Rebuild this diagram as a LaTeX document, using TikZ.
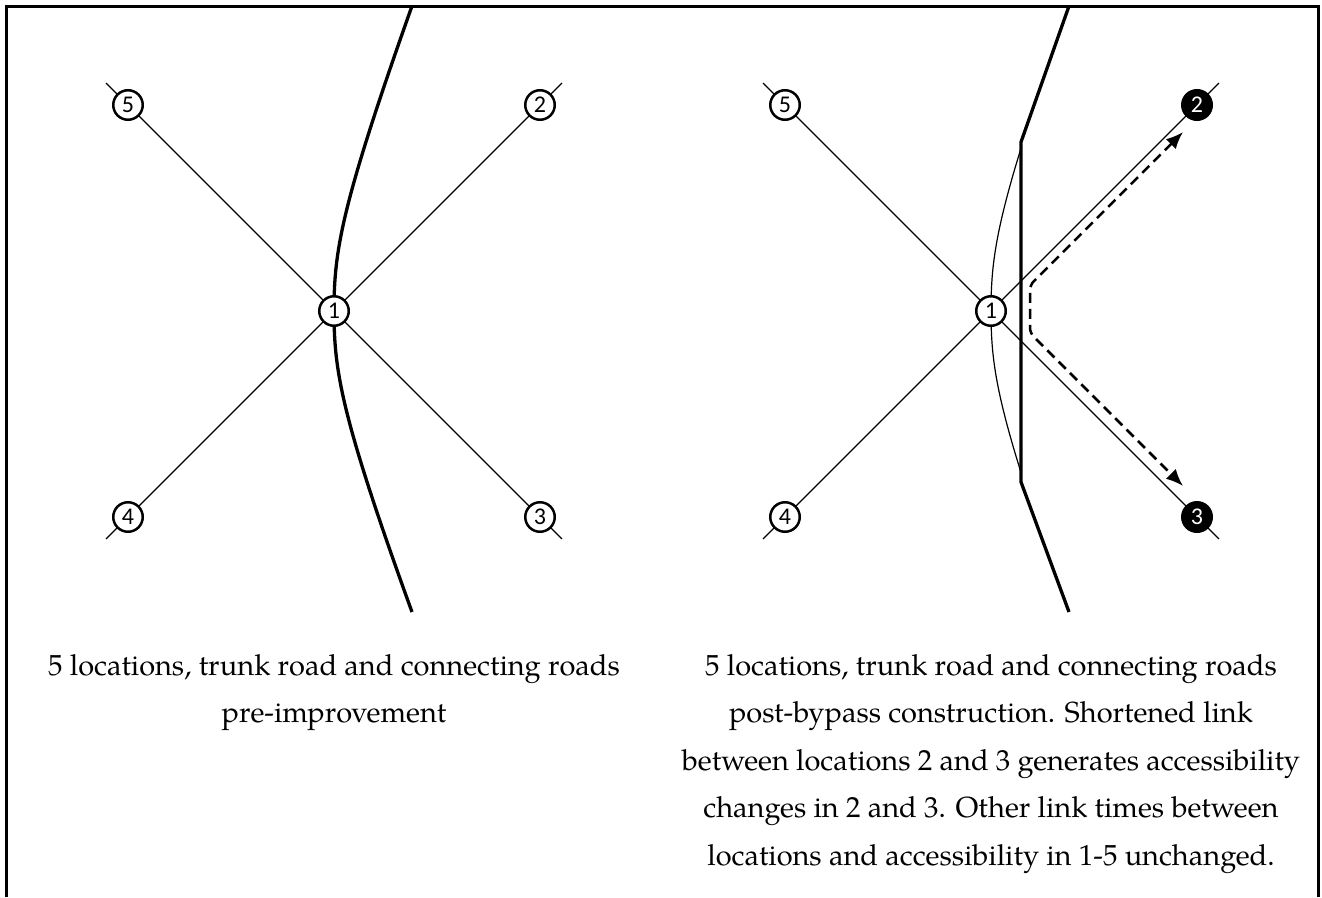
\documentclass[tikz,border=0pt]{standalone}
\usepackage{fontspec}
\newfontfamily\numfont{Carlito}
\newfontfamily\palfont{texgyrepagella-regular.otf}
\usetikzlibrary{arrows.meta}
\begin{document}
\begin{tikzpicture}[x=1pt,y=-1pt,
  loc/.style={circle,draw,line width=2.5pt,fill=white,minimum size=29.5pt,inner sep=0pt,
    font=\numfont\fontsize{24}{24}\selectfont},
  locb/.style={loc,fill=black,text=white},
  link/.style={line width=1.2pt,shorten <=-31pt,shorten >=-31pt},
  trunk/.style={line width=3.3pt},
  oldtrunk/.style={line width=1.2pt},
  frame/.style={line width=3pt},
  route/.style={line width=2.5pt,dash pattern=on 10pt off 6pt,rounded corners=5pt,
    {Latex[length=17pt,width=14pt]}-{Latex[length=17pt,width=14pt]}},
  caption/.style={inner sep=0pt,anchor=base}]
\useasboundingbox (0,0) rectangle (1322,897);
\draw[frame] (6,897) -- (6,6) -- (1318,6) -- (1318,897);

% ---------- left panel ----------
\coordinate (p1) at (334,311);
\coordinate (p2) at (540,105);
\coordinate (p3) at (540,517);
\coordinate (p4) at (128,517);
\coordinate (p5) at (128,105);
\coordinate (tA) at (412,6);
\coordinate (tB) at (412,612);
\draw[link] (p5) -- (p3);
\draw[link] (p2) -- (p4);
\draw[trunk] (tA) .. controls (341,206) and (334,251) .. (p1)
             .. controls (334,371) and (341,416) .. (tB);
\node[loc] (n1) at (p1) {1};
\node[loc] (n2) at (p2) {2};
\node[loc] (n3) at (p3) {3};
\node[loc] (n4) at (p4) {4};
\node[loc] (n5) at (p5) {5};

% ---------- right panel ----------
\coordinate (q1) at (991,311);
\coordinate (q2) at (1197,105);
\coordinate (q3) at (1197,517);
\coordinate (q4) at (785,517);
\coordinate (q5) at (785,105);
\coordinate (uA) at (1069,6);
\coordinate (uB) at (1069,612);
\coordinate (bA) at (1021,142);
\coordinate (bB) at (1021,482);
\draw[link] (q5) -- (q3);
\draw[link] (q2) -- (q4);
\begin{scope}
  \clip (900,0) rectangle (1021,897);
  \draw[oldtrunk] (uA) .. controls (998,206) and (991,251) .. (q1)
                  .. controls (991,371) and (998,416) .. (uB);
\end{scope}
\draw[trunk] (uA) -- (bA) -- (bB) -- (uB);
\coordinate (d2) at (1183,132);
\coordinate (d3) at (1183,486);
\coordinate (k2) at (1030,285);
\coordinate (k3) at (1030,333);
\draw[route] (d2) -- (k2) -- (k3) -- (d3);
\node[loc] (r1) at (q1) {1};
\node[locb] (r2) at (q2) {2};
\node[locb] (r3) at (q3) {3};
\node[loc] (r4) at (q4) {4};
\node[loc] (r5) at (q5) {5};

% ---------- captions ----------
\node[caption] (capL) at (334,675) {\parbox[t]{800pt}{\centering\palfont\fontsize{29}{47.5}\selectfont
  5 locations, trunk road and connecting roads\\
  pre-improvement\par}};
\node[caption] (capR) at (991,675) {\parbox[t]{800pt}{\centering\palfont\fontsize{29}{47.5}\selectfont
  5 locations, trunk road and connecting roads\\
  post-bypass construction. Shortened link\\
  between locations 2 and 3 generates accessibility\\
  changes in 2 and 3. Other link times between\\
  locations and accessibility in 1-5 unchanged.\par}};
\end{tikzpicture}
\end{document}
